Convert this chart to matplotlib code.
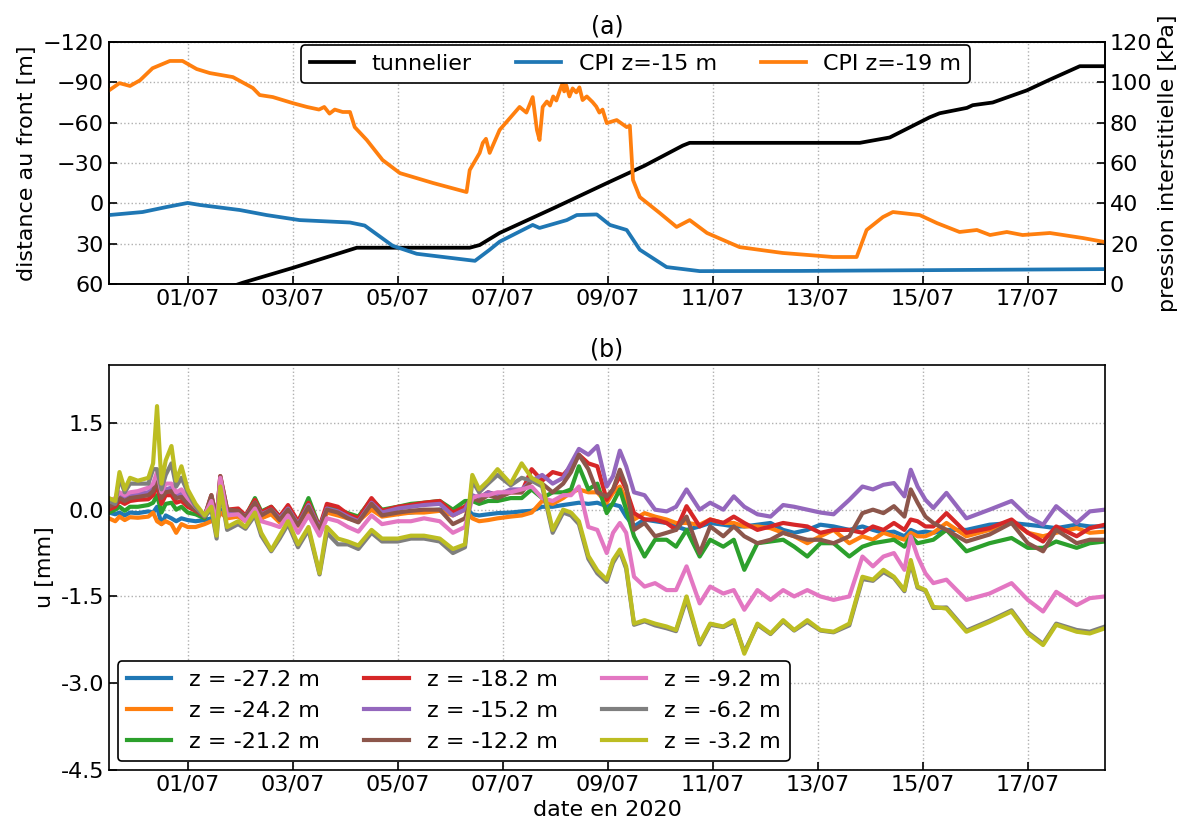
import numpy as np
import pandas as pd
import matplotlib
matplotlib.use('Agg')
import matplotlib.pyplot as plt
import matplotlib.dates as mdates

plt.rcParams['font.size'] = 16

origin = pd.Timestamp('2020-07-01')
x_start, x_end = -1.50, 17.47   # days from 01/07

# (a) tunnelier: days from 01/07, distance to front [m]
tun_t = [0.6, 1.05, 2.0, 3.22, 5.37, 5.56, 5.94, 7.0, 7.98, 8.7, 9.43, 9.56, 12.8,
         13.37, 14.13, 14.32, 14.84, 14.95, 15.33, 15.98, 16.42, 16.99, 17.47]
tun_d = [65, 59, 48, 33, 33, 31, 22, 3, -15, -28, -43, -45, -45,
         -49, -64, -67, -71, -73, -75, -84, -92, -102, -102]

# (a) CPI z=-15 m, pore pressure [kPa]
cpi15_t = [-1.5, -0.86, -0.40, 0.0, 0.23, 0.99, 1.50, 2.13, 3.09, 3.37, 3.90, 4.36, 5.31, 5.47,
           5.75, 5.94, 6.57, 6.70, 7.22, 7.41, 7.79, 8.04, 8.36, 8.61, 9.12, 9.75, 11.66, 17.47]
cpi15_p = [34.2, 35.7, 38.2, 40.2, 39.2, 36.7, 34.2, 31.7, 30.5, 29.0, 19.0, 15.0, 12.0, 11.5,
           17.0, 21.0, 29.3, 27.8, 31.7, 34.2, 34.5, 29.3, 26.8, 17.0, 8.4, 6.4, 6.5, 7.4]

# (a) CPI z=-19 m, pore pressure [kPa]
cpi19_t = [-1.50, -1.30, -1.10, -0.91, -0.67, -0.34, -0.10, 0.17, 0.42, 0.86, 1.24, 1.37, 1.62,
           2.00, 2.27, 2.50, 2.60, 2.70, 2.80, 2.95, 3.09, 3.18, 3.41, 3.71, 4.04, 4.67, 5.31,
           5.37, 5.56, 5.62, 5.68, 5.75, 5.94, 6.32, 6.45, 6.57, 6.65, 6.70, 6.76, 6.84, 6.90,
           6.96, 7.02, 7.09, 7.14, 7.17, 7.21, 7.27, 7.33, 7.40, 7.46, 7.52, 7.60, 7.71, 7.78,
           7.84, 7.90, 7.98, 8.17, 8.36, 8.42, 8.48, 8.61, 8.99, 9.31,
           9.56, 9.89, 10.51, 11.33, 12.29, 12.74, 12.93, 13.24, 13.43, 13.94, 14.27, 14.70,
           15.03, 15.28, 15.60, 15.90, 16.42, 17.05, 17.47]
cpi19_p = [96.0, 99.6, 98.2, 101.0, 107.0, 110.6, 110.6, 106.6, 104.6, 102.6, 97.2, 93.7, 92.7,
           89.7, 87.8, 86.5, 87.8, 84.5, 86.5, 85.3, 85.3, 77.8, 71.4, 61.5, 55.0, 50.1, 45.6,
           56.5, 65.0, 70.0, 72.0, 65.0, 76.4, 87.8, 85.0, 92.7, 76.4, 71.4, 87.8, 90.5, 88.5,
           93.0, 91.0, 96.2, 99.6, 95.5, 98.5, 93.0, 97.0, 95.0, 97.5, 91.2, 93.0, 90.2, 88.0,
           85.0, 86.5, 79.8, 81.3, 77.8, 78.5, 51.6, 43.1, 35.2, 28.3,
           31.7, 25.3, 18.3, 15.4, 13.4, 13.4, 26.8, 33.2, 35.7, 34.2, 30.2, 25.8,
           26.8, 24.3, 25.8, 24.3, 25.3, 22.8, 20.8]

# (b) inclinometer displacement u [mm], days from 01/07
u_t = [-1.50, -1.38, -1.30, -1.20, -1.10, -0.95, -0.75, -0.66, -0.585, -0.50, -0.42, -0.31,
       -0.22, -0.12, 0.00, 0.15, 0.32,
       0.45, 0.55, 0.62, 0.75, 0.96, 1.10, 1.28, 1.40, 1.59, 1.75, 1.91, 2.10, 2.30, 2.51,
       2.65, 2.86, 3.05, 3.25, 3.50, 3.70, 4.00, 4.25, 4.50, 4.80, 5.05, 5.28,
       5.42, 5.55, 5.72, 5.90, 6.15, 6.36, 6.55, 6.75, 6.95, 7.15, 7.30, 7.45, 7.63, 7.80,
       7.98, 8.10, 8.23, 8.35, 8.50, 8.70, 8.90, 9.12, 9.30, 9.50, 9.75, 9.95, 10.20, 10.40,
       10.60, 10.85, 11.10, 11.34, 11.55, 11.80, 12.05, 12.30,
       12.60, 12.85, 13.05, 13.25, 13.45, 13.65, 13.77, 13.90, 14.05, 14.20,
       14.45, 14.83, 15.27, 15.69, 16.00, 16.29, 16.54, 16.93, 17.18, 17.47]

u_z272 = [-0.05, -0.08, -0.05, -0.10, -0.05, -0.06, -0.03, -0.05, 0.05, -0.25, -0.10, -0.15,
          -0.20, -0.15, -0.18, -0.20, -0.18,
          -0.15, -0.20, 0.00, -0.10, -0.10, -0.18, 0.05, -0.15, -0.05, -0.20, -0.05, -0.25,
          0.00, -0.30, -0.05, -0.05, -0.12, -0.18, 0.05, -0.10, -0.05, -0.05, -0.02, 0.00,
          -0.05, 0.05,
          -0.08, -0.10, -0.08, -0.06, -0.05, -0.03, -0.02, 0.05, 0.05, 0.08, 0.10, 0.12, 0.10, 0.12,
          0.06, 0.09, 0.06, -0.12, -0.29, -0.17, -0.20, -0.23, -0.29, -0.35, -0.29, -0.23,
          -0.26, -0.29, -0.29, -0.26, -0.23, -0.35, -0.40, -0.35, -0.26, -0.29,
          -0.35, -0.29, -0.35, -0.40, -0.38, -0.46, -0.35, -0.40, -0.38, -0.40,
          -0.35, -0.35, -0.26, -0.23, -0.26, -0.29, -0.32, -0.26, -0.29, -0.29]
u_z242 = [-0.15, -0.20, -0.12, -0.18, -0.13, -0.14, -0.12, -0.05, -0.20, -0.25, -0.20, -0.25,
          -0.40, -0.25, -0.30, -0.30, -0.25,
          -0.20, -0.20, -0.05, -0.15, -0.12, -0.20, 0.00, -0.15, -0.08, -0.22, -0.08, -0.28,
          -0.05, -0.35, -0.05, -0.10, -0.15, -0.20, 0.00, -0.12, -0.08, -0.05, -0.05, -0.02,
          -0.10, 0.00,
          -0.15, -0.20, -0.18, -0.15, -0.12, -0.10, -0.05, 0.15, 0.10, 0.20, 0.30, 0.35, 0.30, 0.30,
          0.12, 0.29, 0.40, 0.17, -0.17, -0.06, -0.12, -0.17, -0.23, -0.23, -0.26, -0.17,
          -0.23, -0.23, -0.29, -0.29, -0.32, -0.40, -0.46, -0.58, -0.46, -0.35,
          -0.58, -0.46, -0.52, -0.40, -0.46, -0.52, -0.40, -0.46, -0.46, -0.40,
          -0.23, -0.46, -0.35, -0.20, -0.40, -0.46, -0.40, -0.32, -0.40, -0.38]
u_z212 = [-0.05, 0.00, 0.05, -0.02, 0.05, 0.05, 0.08, 0.12, 0.25, -0.05, 0.10, 0.12,
          0.00, 0.05, -0.05, -0.08, -0.15,
          0.10, -0.20, 0.35, -0.05, -0.03, -0.12, 0.20, -0.03, 0.05, -0.12, 0.05, -0.22,
          0.20, -0.30, 0.05, 0.00, -0.06, -0.12, 0.18, 0.00, 0.05, 0.10, 0.12, 0.15,
          0.00, 0.15,
          0.15, 0.10, 0.15, 0.15, 0.20, 0.20, 0.35, 0.20, 0.30, 0.30, 0.35, 0.75, 0.35, 0.45,
          -0.06, 0.12, 0.35, 0.00, -0.46, -0.81, -0.52, -0.52, -0.64, -0.35, -0.81, -0.52,
          -0.64, -0.52, -1.04, -0.58, -0.55, -0.52, -0.64, -0.81, -0.58, -0.58,
          -0.81, -0.64, -0.58, -0.55, -0.52, -0.64, -0.46, -0.58, -0.55, -0.52,
          -0.35, -0.72, -0.58, -0.49, -0.66, -0.66, -0.55, -0.66, -0.58, -0.55]
u_z182 = [0.00, 0.05, 0.15, 0.10, 0.15, 0.17, 0.18, 0.25, 0.42, 0.10, 0.25, 0.25,
          0.12, 0.15, 0.05, -0.02, -0.12,
          0.25, -0.15, 0.58, 0.00, 0.02, -0.10, 0.17, -0.05, 0.05, -0.12, 0.08, -0.20,
          0.12, -0.30, 0.10, 0.05, -0.08, -0.15, 0.20, -0.02, 0.05, 0.08, 0.12, 0.15,
          -0.05, 0.05,
          0.20, 0.20, 0.30, 0.25, 0.30, 0.30, 0.70, 0.50, 0.65, 0.60, 0.75, 0.95, 0.80, 0.75,
          0.17, 0.35, 0.58, 0.35, -0.06, -0.17, -0.17, -0.23, -0.35, 0.06, -0.29, -0.17,
          -0.23, -0.12, -0.23, -0.35, -0.29, -0.23, -0.26, -0.29, -0.40, -0.35,
          -0.35, -0.40, -0.29, -0.35, -0.23, -0.35, -0.17, -0.20, -0.29, -0.29,
          -0.06, -0.40, -0.32, -0.17, -0.40, -0.55, -0.29, -0.46, -0.32, -0.26]
u_z152 = [0.10, 0.15, 0.25, 0.20, 0.25, 0.28, 0.30, 0.38, 0.55, 0.25, 0.35, 0.38,
          0.25, 0.28, 0.15, 0.02, -0.10,
          0.20, -0.15, 0.50, -0.02, -0.03, -0.12, 0.12, -0.08, 0.00, -0.15, 0.02, -0.25,
          0.08, -0.32, 0.02, -0.03, -0.12, -0.20, 0.12, -0.05, 0.02, 0.05, 0.08, 0.10,
          -0.10, 0.00,
          0.25, 0.20, 0.30, 0.25, 0.35, 0.35, 0.50, 0.60, 0.45, 0.55, 0.80, 1.05, 0.95, 1.10,
          0.40, 0.58, 1.02, 0.75, 0.30, 0.25, 0.00, -0.03, 0.05, 0.35, 0.00, 0.12,
          0.00, 0.23, 0.05, -0.08, -0.12, 0.08, 0.05, 0.00, -0.05, -0.08,
          0.17, 0.40, 0.35, 0.43, 0.46, 0.23, 0.69, 0.40, 0.17, 0.03,
          0.29, -0.15, 0.00, 0.15, -0.12, -0.26, 0.06, -0.23, -0.03, 0.00]
u_z122 = [0.05, 0.10, 0.20, 0.15, 0.20, 0.22, 0.25, 0.32, 0.50, 0.20, 0.30, 0.32,
          0.20, 0.22, 0.10, 0.00, -0.12,
          0.25, -0.18, 0.58, 0.00, -0.02, -0.13, 0.12, -0.10, 0.00, -0.18, 0.00, -0.27,
          0.05, -0.35, 0.00, -0.05, -0.15, -0.22, 0.10, -0.10, -0.05, -0.02, 0.00, 0.00,
          -0.25, -0.15,
          0.20, 0.15, 0.25, 0.20, 0.30, 0.30, 0.50, 0.45, 0.30, 0.45, 0.65, 0.95, 0.70, 0.30,
          0.23, 0.35, 0.69, 0.40, -0.35, -0.23, -0.46, -0.40, -0.35, -0.12, -0.75, -0.29,
          -0.46, -0.29, -0.46, -0.58, -0.52, -0.40, -0.46, -0.52, -0.52, -0.58,
          -0.46, -0.06, 0.00, -0.06, 0.06, -0.12, 0.35, 0.12, -0.12, -0.23,
          -0.35, -0.55, -0.43, -0.23, -0.58, -0.72, -0.35, -0.58, -0.52, -0.52]
u_z92 = [0.15, 0.20, 0.30, 0.25, 0.30, 0.32, 0.38, 0.45, 0.65, 0.30, 0.45, 0.45,
         0.30, 0.35, 0.20, 0.05, -0.10,
         0.15, -0.25, 0.55, -0.10, -0.08, -0.20, 0.02, -0.20, -0.25, -0.30, -0.10, -0.40,
         -0.10, -0.45, -0.15, -0.20, -0.30, -0.38, -0.10, -0.25, -0.20, -0.20, -0.15, -0.20,
         -0.40, -0.30,
         0.20, 0.25, 0.25, 0.30, 0.30, 0.35, 0.40, 0.20, 0.15, 0.25, 0.25, 0.40, -0.30, -0.35,
         -0.75, -0.40, -0.23, -0.40, -1.16, -1.33, -1.27, -1.39, -1.39, -0.98, -1.62, -1.33,
         -1.45, -1.39, -1.73, -1.39, -1.56, -1.39, -1.50, -1.39, -1.50, -1.56,
         -1.50, -0.81, -0.98, -0.81, -0.75, -1.04, -0.46, -0.81, -1.10, -1.27,
         -1.21, -1.56, -1.45, -1.27, -1.56, -1.76, -1.42, -1.65, -1.53, -1.50]
u_z62 = [0.15, 0.10, 0.55, 0.30, 0.45, 0.45, 0.45, 0.70, 0.70, 0.35, 0.60, 0.80,
         0.40, 0.55, 0.30, 0.05, -0.12,
         0.00, -0.50, 0.35, -0.35, -0.25, -0.33, -0.10, -0.45, -0.72, -0.50, -0.25, -0.65,
         -0.35, -1.12, -0.40, -0.60, -0.60, -0.68, -0.40, -0.55, -0.55, -0.50, -0.50, -0.55,
         -0.75, -0.65,
         0.50, 0.30, 0.45, 0.60, 0.42, 0.55, 0.50, 0.40, -0.40, -0.05, -0.10, -0.25, -0.85, -1.10,
         -1.25, -0.92, -0.72, -1.02, -1.99, -1.93, -2.00, -2.05, -2.10, -1.55, -2.33, -1.99,
         -2.03, -1.94, -2.46, -1.99, -2.15, -1.93, -2.09, -1.94, -2.09, -2.12,
         -2.00, -1.20, -1.23, -1.08, -1.18, -1.41, -0.92, -1.35, -1.40, -1.70,
         -1.69, -2.09, -1.92, -1.74, -2.12, -2.32, -1.97, -2.08, -2.11, -2.02]
u_z32 = [0.20, 0.15, 0.65, 0.35, 0.55, 0.50, 0.55, 0.80, 1.79, 0.45, 0.85, 1.10,
         0.50, 0.75, 0.35, 0.10, -0.10,
         0.05, -0.45, 0.40, -0.30, -0.20, -0.30, -0.05, -0.40, -0.70, -0.45, -0.20, -0.60,
         -0.30, -1.10, -0.30, -0.50, -0.55, -0.62, -0.35, -0.50, -0.50, -0.45, -0.45, -0.50,
         -0.68, -0.60,
         0.60, 0.35, 0.50, 0.70, 0.45, 0.80, 0.55, 0.45, -0.35, 0.00, -0.05, -0.20, -0.80, -1.05,
         -1.21, -0.87, -0.69, -0.98, -1.97, -1.91, -1.97, -2.02, -2.08, -1.50, -2.31, -1.97,
         -2.02, -1.91, -2.49, -1.97, -2.14, -1.91, -2.08, -1.91, -2.08, -2.11,
         -1.97, -1.16, -1.21, -1.04, -1.16, -1.39, -0.87, -1.33, -1.39, -1.68,
         -1.71, -2.11, -1.94, -1.76, -2.14, -2.34, -1.99, -2.11, -2.14, -2.05]

u_series = [u_z272, u_z242, u_z212, u_z182, u_z152, u_z122, u_z92, u_z62, u_z32]
u_labels = ['z = -27.2 m', 'z = -24.2 m', 'z = -21.2 m', 'z = -18.2 m', 'z = -15.2 m',
            'z = -12.2 m', 'z = -9.2 m', 'z = -6.2 m', 'z = -3.2 m']


def to_dates(t):
    return origin + pd.to_timedelta(np.asarray(t, dtype=float), unit='D')


fig = plt.figure(figsize=(11.95, 8.3), dpi=100)
ax1 = fig.add_axes([0.0912, 0.6578, 0.8335, 0.2916])
ax2 = ax1.twinx()
ax3 = fig.add_axes([0.0912, 0.0723, 0.8335, 0.4879])

# ---- (a)
l1, = ax1.plot(to_dates(tun_t), tun_d, color='black', lw=2.7, label='tunnelier')
l2, = ax2.plot(to_dates(cpi15_t), cpi15_p, color='tab:blue', lw=2.7, label='CPI z=-15 m')
l3, = ax2.plot(to_dates(cpi19_t), cpi19_p, color='tab:orange', lw=2.7, label='CPI z=-19 m')

ax1.set_ylim(60, -120)
ax1.set_yticks(np.arange(-120, 61, 30))
ax2.set_ylim(0, 120)
ax2.set_yticks(np.arange(0, 121, 20))
ax1.set_ylabel('distance au front [m]')
ax2.set_ylabel('pression interstitielle [kPa]')
ax1.set_title('(a)', fontsize=17)
ax1.grid(True, ls=':', color='#b0b0b0', lw=1)
leg = ax2.legend(handles=[l1, l2, l3], ncol=3, loc='upper right',
                 bbox_to_anchor=(0.868, 1.0), borderaxespad=0.15,
                 edgecolor='black', framealpha=1, columnspacing=2.0)
leg.get_frame().set_linewidth(1.2)

# ---- (b)
for vals, lab in zip(u_series, u_labels):
    ax3.plot(to_dates(u_t), vals, lw=3, label=lab)
ax3.set_ylim(-4.5, 2.5)
ax3.set_yticks([-4.5, -3.0, -1.5, 0.0, 1.5])
ax3.yaxis.set_major_formatter(plt.FormatStrFormatter('%.1f'))
ax3.set_ylabel('u [mm]')
ax3.set_xlabel('date en 2020')
ax3.set_title('(b)', fontsize=17)
ax3.grid(True, ls=':', color='#b0b0b0', lw=1)
leg3 = ax3.legend(ncol=3, loc='lower left', borderaxespad=0.4, edgecolor='black',
                  framealpha=1, columnspacing=2.0)
leg3.get_frame().set_linewidth(1.2)

for ax in (ax1, ax3):
    ax.set_xlim(to_dates([x_start])[0], to_dates([x_end])[0])
    ax.xaxis.set_major_locator(mdates.DayLocator(bymonthday=range(1, 32, 2)))
    ax.xaxis.set_major_formatter(mdates.DateFormatter('%d/%m'))
for ax in (ax1, ax2, ax3):
    ax.tick_params(direction='in', length=6, width=1.2)
    for s in ax.spines.values():
        s.set_linewidth(1.2)

fig.savefig('out.png', dpi=100)
